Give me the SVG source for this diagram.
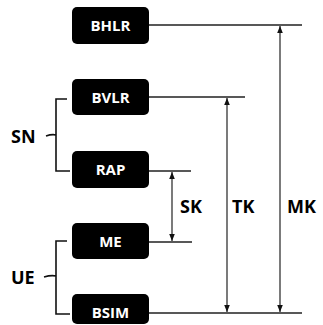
<svg xmlns="http://www.w3.org/2000/svg" width="323" height="325" viewBox="0 0 323 325">
<style>
.box{fill:#000;}
.bl{fill:#fff;font-family:"Open Sans","DejaVu Sans",sans-serif;font-weight:bold;font-size:15px;text-anchor:middle;}
.lb{fill:#000;font-family:"Open Sans","DejaVu Sans",sans-serif;font-weight:bold;font-size:18px;}
.ln{stroke:#222;stroke-width:1.3;fill:none;}
.ar{stroke:#222;stroke-width:1.2;fill:none;marker-start:url(#ah);marker-end:url(#ah);}
.br{stroke:#111;stroke-width:1.6;fill:none;}
</style>
<defs>
<marker id="ah" viewBox="0 0 10 10" refX="10" refY="5" markerWidth="7" markerHeight="7" orient="auto-start-reverse" markerUnits="userSpaceOnUse">
<path d="M0,1 L10,5 L0,9 Z" fill="#111"/>
</marker>
</defs>
<rect width="323" height="325" fill="#fff"/>
<g id="BHLR"><rect class="box" x="72" y="7" width="77" height="37" rx="5"/><text class="bl" x="110.5" y="31">BHLR</text></g>
<g id="BVLR"><rect class="box" x="72" y="79" width="77" height="36" rx="5"/><text class="bl" x="110.5" y="102.5">BVLR</text></g>
<g id="RAP"><rect class="box" x="72" y="151" width="77" height="37" rx="5"/><text class="bl" x="110.5" y="175">RAP</text></g>
<g id="ME"><rect class="box" x="72" y="223" width="77" height="36" rx="5"/><text class="bl" x="110.5" y="246.5">ME</text></g>
<g id="BSIM"><rect class="box" x="72" y="294" width="77" height="30" rx="5"/><text class="bl" x="110.5" y="317.5">BSIM</text></g>
<g id="SN"><text class="lb" x="11" y="143">SN</text><path class="br" d="M67,99 H56 V171 H70 M46,136 Q52,134 56,135"/></g>
<g id="UE"><text class="lb" x="11" y="284">UE</text><path class="br" d="M67,241 H56 V314 H70 M44,277 Q51,275 56,276"/></g>
<g id="connectors">
<path class="ln" d="M149,25 H302 M149,97 H245 M149,171 H191 M149,242 H192 M149,313 H302"/>
<path class="ar" d="M280,26 V312"/>
<path class="ar" d="M227,98 V312"/>
<path class="ar" d="M172,172 V241"/>
</g>
<text class="lb" x="180" y="213">SK</text>
<text class="lb" x="232" y="213">TK</text>
<text class="lb" x="287" y="213">MK</text>
</svg>
